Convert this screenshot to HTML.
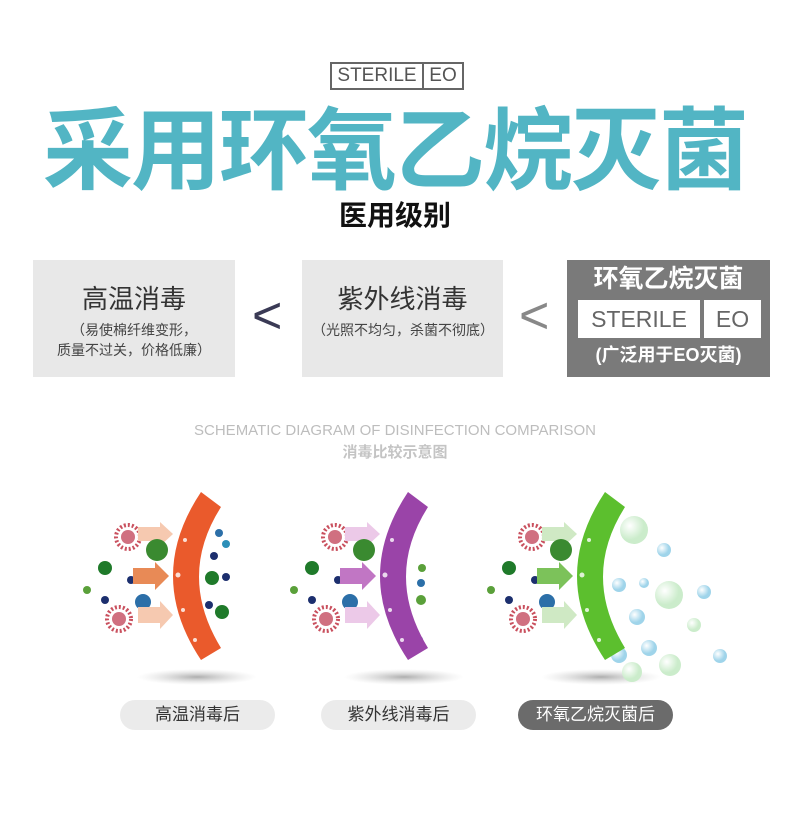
<!DOCTYPE html>
<html><head><meta charset="utf-8"><style>
*{margin:0;padding:0;box-sizing:border-box}
body{width:790px;height:821px;background:#fff;position:relative;overflow:hidden;font-family:"Liberation Sans","Noto Sans CJK SC",sans-serif}
.a{position:absolute}
.c{text-align:center}
</style></head><body>
<div class="a" style="left:330px;top:62px;width:134px;height:28px;border:2px solid #666;"></div>
<div class="a" style="left:422px;top:62px;width:2px;height:28px;background:#666"></div>
<div class="a c" style="left:332px;top:65px;width:90px;font-size:19px;color:#555;line-height:22px">STERILE</div>
<div class="a c" style="left:424px;top:65px;width:38px;font-size:19px;color:#555;line-height:22px">EO</div>
<div class="a c" style="left:0;top:88px;width:790px;font-size:90px;font-weight:bold;color:#52b5c4;line-height:110px;letter-spacing:-2px;white-space:nowrap;font-family:'Noto Sans CJK SC',sans-serif">采用环氧乙烷灭菌</div>
<div class="a c" style="left:0;top:196px;width:790px;font-size:28px;font-weight:bold;color:#111;line-height:36px;font-family:'Noto Sans CJK SC',sans-serif">医用级别</div>

<div class="a" style="left:33px;top:260px;width:202px;height:117px;background:#e8e8e8"></div>
<div class="a c" style="left:33px;top:282px;width:202px;font-size:26px;color:#333;line-height:34px">高温消毒</div>
<div class="a c" style="left:33px;top:320px;width:202px;font-size:14px;color:#444;line-height:20px">（易使棉纤维变形，<br>质量不过关，价格低廉）</div>
<div class="a" style="left:252px;top:290px;font-size:52px;color:#3a3a55;line-height:52px">&lt;</div>

<div class="a" style="left:302px;top:260px;width:201px;height:117px;background:#e8e8e8"></div>
<div class="a c" style="left:302px;top:282px;width:201px;font-size:26px;color:#333;line-height:34px">紫外线消毒</div>
<div class="a c" style="left:298px;top:320px;width:210px;font-size:14px;color:#444;line-height:20px">（光照不均匀，杀菌不彻底）</div>
<div class="a" style="left:519px;top:290px;font-size:52px;color:#888;line-height:52px">&lt;</div>

<div class="a" style="left:567px;top:260px;width:203px;height:117px;background:#7a7a7a"></div>
<div class="a c" style="left:567px;top:261px;width:203px;font-size:25px;font-weight:bold;color:#fff;line-height:36px">环氧乙烷灭菌</div>
<div class="a" style="left:578px;top:300px;width:122px;height:38px;background:#fff"></div>
<div class="a" style="left:704px;top:300px;width:57px;height:38px;background:#fff"></div>
<div class="a c" style="left:578px;top:305px;width:122px;font-size:23px;color:#666;line-height:28px">STERILE</div>
<div class="a c" style="left:704px;top:305px;width:57px;font-size:23px;color:#666;line-height:28px">EO</div>
<div class="a c" style="left:567px;top:341px;width:203px;font-size:18px;font-weight:bold;color:#fff;line-height:28px">(广泛用于EO灭菌)</div>

<div class="a c" style="left:0;top:421px;width:790px;font-size:15px;color:#bdbdbd;line-height:20px">SCHEMATIC DIAGRAM OF DISINFECTION COMPARISON</div>
<div class="a c" style="left:0;top:443px;width:790px;font-size:15px;font-weight:bold;color:#c4c4c4;line-height:20px">消毒比较示意图</div>

<svg class="a" style="left:0;top:0" width="790" height="821">
<defs>
<radialGradient id="sh"><stop offset="0" stop-color="#999" stop-opacity=".8"/><stop offset="1" stop-color="#ccc" stop-opacity="0"/></radialGradient>
<radialGradient id="bb" cx=".35" cy=".35"><stop offset="0" stop-color="#fff"/><stop offset="1" stop-color="#9fd4ea"/></radialGradient>
<radialGradient id="bg" cx=".35" cy=".35"><stop offset="0" stop-color="#fff"/><stop offset="1" stop-color="#cbeccb"/></radialGradient>
<g id="left">
<circle cx="128" cy="537" r="12" fill="none" stroke="#c9505e" stroke-width="4" stroke-dasharray="2 2"/><circle cx="128" cy="537" r="7" fill="#d07080"/>
<circle cx="105" cy="568" r="7" fill="#1f7a2a"/>
<circle cx="131" cy="580" r="4" fill="#1c2f6e"/>
<circle cx="87" cy="590" r="4" fill="#5aa03a"/>
<circle cx="105" cy="600" r="4" fill="#1c2f6e"/>
<circle cx="143" cy="602" r="8" fill="#2c6fa8"/>
<circle cx="119" cy="619" r="12" fill="none" stroke="#c9505e" stroke-width="4" stroke-dasharray="2 2"/><circle cx="119" cy="619" r="7" fill="#d07080"/>
</g>
<g id="right1">
<circle cx="219" cy="533" r="4" fill="#2c6fa8"/><circle cx="226" cy="544" r="4" fill="#2c8fb8"/>
<circle cx="214" cy="556" r="4" fill="#1c2f6e"/><circle cx="212" cy="578" r="7" fill="#1f7a2a"/>
<circle cx="226" cy="577" r="4" fill="#1c2f6e"/><circle cx="209" cy="605" r="4" fill="#1c2f6e"/>
<circle cx="222" cy="612" r="7" fill="#1f7a2a"/>
</g>
</defs>
<ellipse cx="197" cy="677" rx="60" ry="8" fill="url(#sh)"/>
<use href="#left"/>
<rect x="138" y="527" width="24" height="14" fill="#f6c9b0"/><path d="M160,522 L173,534 L160,546Z" fill="#f6c9b0"/>
<rect x="133" y="568" width="24" height="16" fill="#e88a56"/><path d="M155,562 L169,576 L155,590Z" fill="#e88a56"/>
<rect x="138" y="607" width="24" height="16" fill="#f6c9b0"/><path d="M160,601 L173,615 L160,629Z" fill="#f6c9b0"/>
<circle cx="157" cy="550" r="11" fill="#3a8a30"/>
<use href="#right1"/>
<path d="M201,492 L221,507 Q177,576 221,648 L201,660 Q145,576 201,492Z" fill="#ea5a2c"/>
<g transform="translate(207,0)">
<ellipse cx="197" cy="677" rx="60" ry="8" fill="url(#sh)"/>
<use href="#left"/>
<rect x="138" y="527" width="24" height="14" fill="#ecc9e8"/><path d="M160,522 L173,534 L160,546Z" fill="#ecc9e8"/>
<rect x="133" y="568" width="24" height="16" fill="#c176c4"/><path d="M155,562 L169,576 L155,590Z" fill="#c176c4"/>
<rect x="138" y="607" width="24" height="16" fill="#ecc9e8"/><path d="M160,601 L173,615 L160,629Z" fill="#ecc9e8"/>
<circle cx="157" cy="550" r="11" fill="#3a8a30"/>
<circle cx="215" cy="568" r="4" fill="#5aa03a"/><circle cx="214" cy="583" r="4" fill="#2c6fa8"/><circle cx="214" cy="600" r="5" fill="#5aa03a"/><circle cx="212" cy="640" r="4" fill="#2c6fa8"/>
<path d="M201,492 L221,507 Q177,576 221,648 L201,660 Q145,576 201,492Z" fill="#9a44a8"/>
</g>
<g transform="translate(404,0)">
<ellipse cx="197" cy="677" rx="60" ry="8" fill="url(#sh)"/>
<use href="#left"/>
<rect x="138" y="527" width="24" height="14" fill="#cfe9c4"/><path d="M160,522 L173,534 L160,546Z" fill="#cfe9c4"/>
<rect x="133" y="568" width="24" height="16" fill="#7cc25a"/><path d="M155,562 L169,576 L155,590Z" fill="#7cc25a"/>
<rect x="138" y="607" width="24" height="16" fill="#cfe9c4"/><path d="M160,601 L173,615 L160,629Z" fill="#cfe9c4"/>
<circle cx="157" cy="550" r="11" fill="#3a8a30"/>
<circle cx="230" cy="530" r="14" fill="url(#bg)"/><circle cx="260" cy="550" r="7" fill="url(#bb)"/>
<circle cx="215" cy="585" r="7" fill="url(#bb)"/><circle cx="240" cy="583" r="5" fill="url(#bb)"/>
<circle cx="265" cy="595" r="14" fill="url(#bg)"/><circle cx="300" cy="592" r="7" fill="url(#bb)"/>
<circle cx="233" cy="617" r="8" fill="url(#bb)"/><circle cx="290" cy="625" r="7" fill="url(#bg)"/>
<circle cx="215" cy="655" r="8" fill="url(#bb)"/><circle cx="245" cy="648" r="8" fill="url(#bb)"/>
<circle cx="228" cy="672" r="10" fill="url(#bg)"/><circle cx="266" cy="665" r="11" fill="url(#bg)"/>
<circle cx="316" cy="656" r="7" fill="url(#bb)"/>
<path d="M201,492 L221,507 Q177,576 221,648 L201,660 Q145,576 201,492Z" fill="#5cbf2e"/>
</g>
<g fill="#fff" opacity=".8">
<circle cx="185" cy="540" r="2"/><circle cx="178" cy="575" r="2.5"/><circle cx="183" cy="610" r="2"/><circle cx="195" cy="640" r="2"/>
<circle cx="392" cy="540" r="2"/><circle cx="385" cy="575" r="2.5"/><circle cx="390" cy="610" r="2"/><circle cx="402" cy="640" r="2"/>
<circle cx="589" cy="540" r="2"/><circle cx="582" cy="575" r="2.5"/><circle cx="587" cy="610" r="2"/><circle cx="599" cy="640" r="2"/>
</g>
</svg>

<div class="a" style="left:120px;top:700px;width:155px;height:30px;border-radius:15px;background:#ebebeb"></div>
<div class="a c" style="left:120px;top:703px;width:155px;font-size:17px;color:#333;line-height:24px">高温消毒后</div>
<div class="a" style="left:321px;top:700px;width:155px;height:30px;border-radius:15px;background:#ebebeb"></div>
<div class="a c" style="left:321px;top:703px;width:155px;font-size:17px;color:#333;line-height:24px">紫外线消毒后</div>
<div class="a" style="left:518px;top:700px;width:155px;height:30px;border-radius:15px;background:#6b6b6b"></div>
<div class="a c" style="left:518px;top:703px;width:155px;font-size:17px;color:#fff;line-height:24px">环氧乙烷灭菌后</div>
</body></html>
